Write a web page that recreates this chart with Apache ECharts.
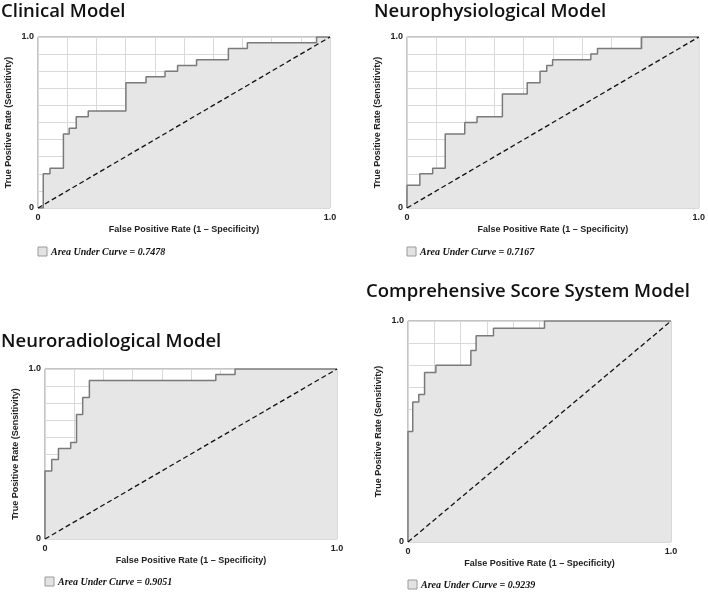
<!DOCTYPE html>
<html>
<head>
<meta charset="utf-8">
<script src="https://cdn.jsdelivr.net/npm/echarts@6/dist/echarts.min.js"></script>
<style>
html, body { margin: 0; padding: 0; background: #fff; }
#chart { width: 708px; height: 593px; }
</style>
</head>
<body>
<div id="chart"></div>
<script>
// ROC step points: each point is where the curve jumps (fpr, tpr after jump)
const clinicalFpr = [0, 0.018, 0.041, 0.087, 0.107, 0.131, 0.172, 0.301, 0.37, 0.435, 0.478, 0.543, 0.652, 0.717, 0.954, 1]
const clinicalTpr = [0, 0.2, 0.233, 0.433, 0.467, 0.533, 0.567, 0.733, 0.767, 0.8, 0.833, 0.867, 0.933, 0.967, 1, 1]

const neurophysFpr = [0, 0, 0.044, 0.088, 0.131, 0.198, 0.24, 0.327, 0.412, 0.456, 0.479, 0.499, 0.63, 0.653, 0.804, 1]
const neurophysTpr = [0, 0.133, 0.2, 0.233, 0.433, 0.5, 0.533, 0.667, 0.733, 0.8, 0.833, 0.867, 0.9, 0.933, 1, 1]

const neuroradFpr = [0, 0, 0.023, 0.046, 0.088, 0.108, 0.129, 0.152, 0.585, 0.651, 1]
const neuroradTpr = [0, 0.4, 0.467, 0.533, 0.567, 0.733, 0.833, 0.933, 0.967, 1, 1]

const compFpr = [0, 0, 0.018, 0.041, 0.063, 0.106, 0.239, 0.259, 0.325, 0.519, 1]
const compTpr = [0, 0.5, 0.633, 0.667, 0.767, 0.8, 0.867, 0.933, 0.967, 1, 1]

const titles = ["Clinical Model", "Neurophysiological Model", "Neuroradiological Model", "Comprehensive Score System Model"]
const aucLabels = ["Area Under Curve = 0.7478", "Area Under Curve = 0.7167", "Area Under Curve = 0.9051", "Area Under Curve = 0.9239"]
const xName = "False Positive Rate (1 \u2013 Specificity)"
const yName = "True Positive Rate (Sensitivity)"

const curves = [
  [clinicalFpr, clinicalTpr],
  [neurophysFpr, neurophysTpr],
  [neuroradFpr, neuroradTpr],
  [compFpr, compTpr]
]

// panel layout
const grids = [
  { left: 38, top: 37, width: 292, height: 171 },
  { left: 407, top: 37, width: 293, height: 171 },
  { left: 45, top: 369, width: 292, height: 170 },
  { left: 408, top: 321, width: 263, height: 221 }
]
const titlePos = [
  { left: 1, top: 2 },
  { left: 374, top: 2 },
  { left: 1, top: 332 },
  { left: 366, top: 282 }
]
const legendPos = [
  { x: 38, y: 247 },
  { x: 407, y: 247 },
  { x: 45, y: 577 },
  { x: 408, y: 580 }
]

const labelFont = { fontFamily: "Liberation Sans Narrow, Liberation Sans", fontWeight: "bold", fontSize: 9, color: "#222" }

function tickLabel(v) {
  if (Math.abs(v) < 1e-9) return "0"
  if (Math.abs(v - 1) < 1e-9) return "1.0"
  return ""
}

const chart = echarts.init(document.getElementById("chart"))

const option = {
  animation: false,
  title: titles.map((t, i) => ({
    text: t,
    left: titlePos[i].left,
    top: titlePos[i].top,
    padding: 0,
    textStyle: { fontFamily: "Open Sans", fontWeight: 600, fontSize: 18.5, color: "#111" }
  })),
  grid: grids.map(g => ({ ...g, show: true, borderColor: "#8a8a8a", borderWidth: 1, backgroundColor: "#fff" })),
  xAxis: grids.map((g, i) => ({
    type: "value",
    gridIndex: i,
    min: 0,
    max: 1,
    interval: 0.1,
    axisLine: { show: false },
    axisTick: { show: false },
    axisLabel: { ...labelFont, margin: 5, formatter: tickLabel, showMinLabel: true, showMaxLabel: true },
    splitLine: { show: true, lineStyle: { color: "#d9d9d9", width: 1 } },
    name: xName,
    nameLocation: "middle",
    nameGap: 17,
    nameTextStyle: { ...labelFont, fontSize: 9 }
  })),
  yAxis: grids.map((g, i) => ({
    type: "value",
    gridIndex: i,
    min: 0,
    max: 1,
    interval: 0.1,
    axisLine: { show: false },
    axisTick: { show: false },
    axisLabel: { ...labelFont, margin: 4, formatter: tickLabel },
    splitLine: { show: true, lineStyle: { color: "#d9d9d9", width: 1 } },
    name: yName,
    nameLocation: "middle",
    nameRotate: 90,
    nameGap: 25,
    nameTextStyle: { ...labelFont, fontSize: 9 }
  })),
  series: curves.flatMap(([fpr, tpr], i) => [
    {
      type: "line",
      xAxisIndex: i,
      yAxisIndex: i,
      step: "end",
      symbol: "none",
      data: fpr.map((x, k) => [x, tpr[k]]),
      lineStyle: { color: "#7a7a7a", width: 1.5 },
      areaStyle: { color: "#e6e6e6", opacity: 1 },
      z: 3
    },
    {
      type: "line",
      xAxisIndex: i,
      yAxisIndex: i,
      symbol: "none",
      data: [[0, 0], [1, 1]],
      lineStyle: { color: "#111", width: 1.3, type: [5, 3] },
      z: 4
    }
  ]),
  graphic: legendPos.flatMap((p, i) => [
    {
      type: "rect",
      shape: { x: p.x, y: p.y, width: 9, height: 9 },
      style: { fill: "#e3e3e3", stroke: "#9a9a9a", lineWidth: 1 }
    },
    {
      type: "text",
      x: p.x + 13,
      y: p.y + 5,
      style: {
        text: aucLabels[i],
        font: "italic bold 10px 'Liberation Serif'",
        fill: "#111",
        verticalAlign: "middle"
      }
    }
  ])
}

chart.setOption(option)
</script>
</body>
</html>
